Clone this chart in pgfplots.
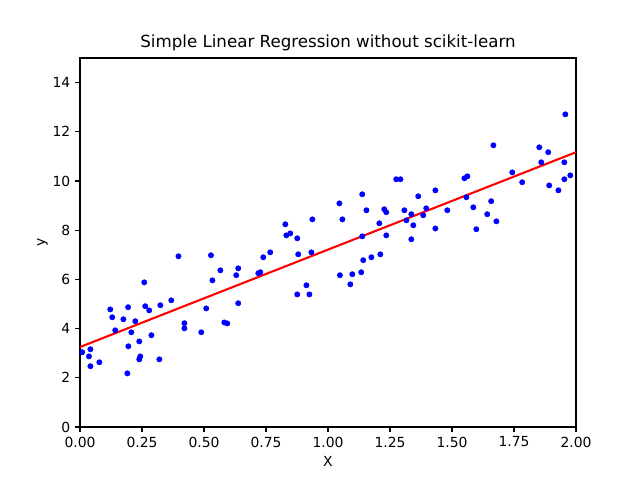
\documentclass[border=0pt]{standalone}
\usepackage{pgfplots}
\pgfplotsset{compat=1.18}
\usepackage{fontspec}
\setmainfont{DejaVu Sans}
\begin{document}
\begin{tikzpicture}[x=1pt,y=1pt]
\useasboundingbox (0,0) rectangle (460.8,345.6);
\begin{axis}[
  at={(57.6pt,38.16pt)}, anchor=south west,
  width=357.12pt, height=265.68pt, scale only axis,
  xmin=0, xmax=2, ymin=0, ymax=15,
  xtick={0,0.25,0.5,0.75,1,1.25,1.5,1.75,2},
  ytick={0,2,4,6,8,10,12,14},
  xticklabel style={/pgf/number format/.cd,fixed,fixed zerofill,precision=2},
  /pgf/number format/assume math mode=true,
  tick label style={font=\fontsize{10}{12}\selectfont},
  label style={font=\fontsize{10}{12}\selectfont},
  title style={font=\fontsize{12}{14}\selectfont, yshift=-4.8pt},
  title={Simple Linear Regression without scikit-learn},
  xlabel={X}, ylabel={y},
  tick align=outside, tick pos=left,
  major tick length=3.5pt,
  axis line style={line width=0.8pt},
  every tick/.style={line width=0.8pt, black},
  xlabel style={yshift=0pt},
  ylabel style={yshift=-3.5pt},
  clip=true,
]
\addplot[only marks, mark=*, mark size=1.9pt, color=blue, mark options={draw=blue, fill=blue}] table {
x y
0.009 3.04
0.042 3.16
0.036 2.87
0.042 2.47
0.078 2.63
0.122 4.78
0.130 4.46
0.142 3.93
0.175 4.38
0.194 4.87
0.195 3.28
0.191 2.18
0.207 3.85
0.223 4.30
0.239 3.48
0.243 2.87
0.239 2.75
0.259 5.88
0.263 4.91
0.279 4.74
0.288 3.73
0.320 2.75
0.324 4.95
0.368 5.15
0.397 6.94
0.421 4.22
0.421 4.01
0.489 3.85
0.509 4.82
0.528 6.98
0.534 5.96
0.566 6.37
0.582 4.25
0.594 4.21
0.630 6.17
0.638 6.45
0.638 5.03
0.719 6.25
0.727 6.29
0.739 6.90
0.767 7.10
0.828 8.24
0.832 7.79
0.848 7.87
0.876 7.67
0.880 7.02
0.933 7.10
0.937 8.44
0.876 5.39
0.913 5.76
0.925 5.39
1.046 9.09
1.058 8.44
1.138 9.46
1.155 8.81
1.138 7.75
1.048 6.17
1.098 6.21
1.090 5.80
1.134 6.29
1.142 6.78
1.175 6.90
1.211 7.02
1.207 8.28
1.227 8.85
1.235 8.73
1.235 7.79
1.275 10.07
1.292 10.07
1.308 8.81
1.316 8.40
1.336 8.65
1.344 8.20
1.336 7.63
1.364 9.38
1.384 8.61
1.396 8.89
1.433 9.62
1.433 8.07
1.481 8.81
1.550 10.11
1.562 10.19
1.558 9.34
1.586 8.93
1.598 8.04
1.642 8.65
1.658 9.18
1.667 11.45
1.679 8.36
1.743 10.35
1.783 9.95
1.852 11.37
1.860 10.76
1.888 11.17
1.892 9.82
1.929 9.62
1.953 10.07
1.953 10.76
1.957 12.71
1.977 10.23
};
\addplot[red, line width=1.5pt, no marks] table {
x y
0 3.25
2 11.17
};
\end{axis}
\end{tikzpicture}
\end{document}
